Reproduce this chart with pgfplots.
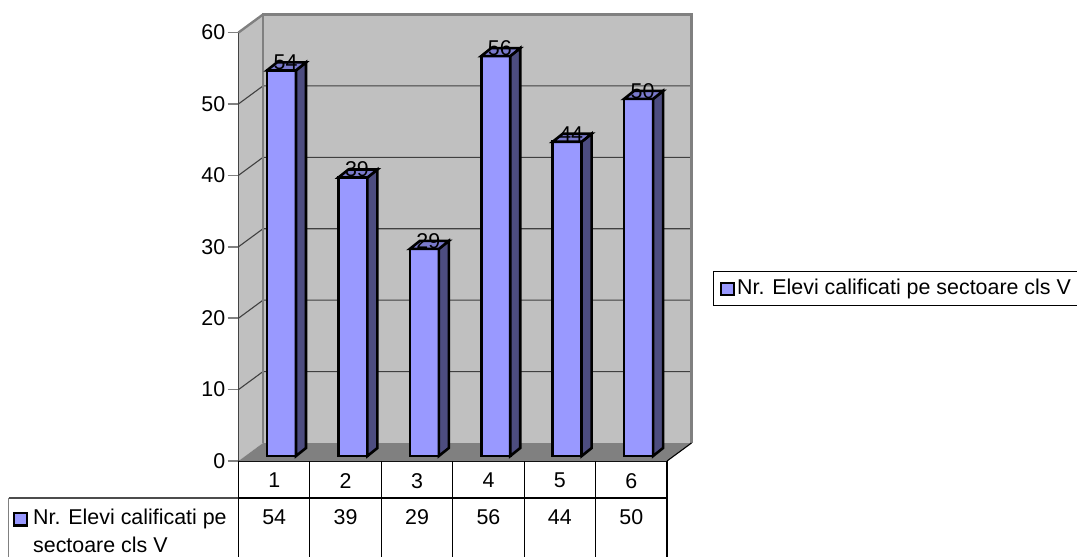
\documentclass[border=0pt]{standalone}
\usepackage{pgfplots}
\pgfplotsset{compat=1.18}
\usepackage{fontspec}
\setmainfont{Liberation Sans}
\definecolor{barfront}{HTML}{9999FF}
\definecolor{barside}{HTML}{4D4D80}
\definecolor{bartop}{HTML}{7A7ACC}
\definecolor{wall}{HTML}{C0C0C0}
\definecolor{floorc}{HTML}{808080}
\newcommand{\chartfont}{\fontsize{21.4}{25}\selectfont}
\pgfplotsset{
  base/.style={
    width=428.5pt, height=428.5pt, scale only axis, clip=false,
    xmin=0.5, xmax=6.5, ymin=0, ymax=60,
  },
  wallline/.style={draw=floorc, line width=2.4pt, forget plot},
  gridl/.style={draw=black!75, line width=1.1pt, forget plot},
  barface/.style={draw=black, line width=2.6pt, line join=miter, forget plot},
}
\begin{document}
\begin{tikzpicture}
\chartfont
\path[use as bounding box] (0pt,0pt) rectangle (1077pt,-557pt);

% walls, floor, gridlines, value axis
\begin{axis}[base,
  at={(238.5pt,-461pt)},
  font=\chartfont,
  /pgf/number format/assume math mode=true,
  axis x line=bottom, axis y line=left,
  axis line style={-, draw=black, line width=1.1pt},
  ytick={0,10,...,60}, xtick={1,2,3,4,5,6},
  xticklabels={1,2,3,4,5,6},
  tick align=outside,
  major tick length=11pt,
  ytick style={draw=floorc, line width=1.6pt},
  xtick style={draw=none},
  yticklabel style={inner sep=1pt, xshift=-1pt},
  xticklabel style={inner sep=0pt, yshift=-1pt},
]
\addplot[fill=wall, draw=none, forget plot] coordinates {(0.843,2.52) (6.843,2.52) (6.843,62.52) (0.843,62.52)} -- cycle;
\addplot[fill=wall, draw=none, forget plot] coordinates {(0.5,0) (0.843,2.52) (0.843,62.52) (0.5,60)} -- cycle;
\addplot[fill=floorc, draw=none, forget plot] coordinates {(0.5,0) (6.5,0) (6.843,2.52) (0.843,2.52)} -- cycle;
\addplot[gridl] coordinates {(0.5,10) (0.843,12.52) (6.843,12.52)};
\addplot[gridl] coordinates {(0.5,20) (0.843,22.52) (6.843,22.52)};
\addplot[gridl] coordinates {(0.5,30) (0.843,32.52) (6.843,32.52)};
\addplot[gridl] coordinates {(0.5,40) (0.843,42.52) (6.843,42.52)};
\addplot[gridl] coordinates {(0.5,50) (0.843,52.52) (6.843,52.52)};
\addplot[wallline] coordinates {(0.843,2.52) (0.843,62.52) (6.843,62.52) (6.843,2.52)};
\addplot[wallline] coordinates {(0.5,60) (0.843,62.52)};
\addplot[draw=black, line width=1.1pt, forget plot] coordinates {(6.5,0) (6.843,2.52)};
% values row of the data table
\addplot[draw=none, forget plot, point meta=explicit symbolic,
  nodes near coords, nodes near coords style={anchor=center, inner sep=0pt, text=black}]
  coordinates {(1,-7.84)[54] (2,-7.84)[39] (3,-7.84)[29] (4,-7.84)[56] (5,-7.84)[44] (6,-7.84)[50]};
\end{axis}

% bars, set slightly into the depth of the floor
\begin{axis}[base,
  at={(245.8pt,-456pt)},
  hide axis,
  font=\chartfont,
  legend style={at={(1.09,0.431)}, anchor=north west, draw=black, line width=1.1pt,
    inner xsep=6.5pt, inner ysep=5.5pt, font=\chartfont,
    legend cell align=left, /tikz/every even column/.style={column sep=2pt}},
]
\addlegendimage{legend image code/.code={
  \draw[fill=barfront, draw=black, line width=2.2pt] (0pt,-6pt) rectangle (13pt,6pt);}}
\addlegendentry{Nr. Elevi calificati pe sectoare cls V}
\addplot[ybar, bar width=29pt, bar shift=0pt, fill=barfront, barface]
  coordinates {(1,54) (2,39) (3,29) (4,56) (5,44) (6,50)};
% side faces
\addplot[fill=barside, barface] coordinates {(1.203,0) (1.343,1.12) (1.343,55.12) (1.203,54)} -- cycle;
\addplot[fill=barside, barface] coordinates {(2.203,0) (2.343,1.12) (2.343,40.12) (2.203,39)} -- cycle;
\addplot[fill=barside, barface] coordinates {(3.203,0) (3.343,1.12) (3.343,30.12) (3.203,29)} -- cycle;
\addplot[fill=barside, barface] coordinates {(4.203,0) (4.343,1.12) (4.343,57.12) (4.203,56)} -- cycle;
\addplot[fill=barside, barface] coordinates {(5.203,0) (5.343,1.12) (5.343,45.12) (5.203,44)} -- cycle;
\addplot[fill=barside, barface] coordinates {(6.203,0) (6.343,1.12) (6.343,51.12) (6.203,50)} -- cycle;
% top faces
\addplot[fill=bartop, barface] coordinates {(0.797,54) (1.203,54) (1.343,55.12) (0.937,55.12)} -- cycle;
\addplot[fill=bartop, barface] coordinates {(1.797,39) (2.203,39) (2.343,40.12) (1.937,40.12)} -- cycle;
\addplot[fill=bartop, barface] coordinates {(2.797,29) (3.203,29) (3.343,30.12) (2.937,30.12)} -- cycle;
\addplot[fill=bartop, barface] coordinates {(3.797,56) (4.203,56) (4.343,57.12) (3.937,57.12)} -- cycle;
\addplot[fill=bartop, barface] coordinates {(4.797,44) (5.203,44) (5.343,45.12) (4.937,45.12)} -- cycle;
\addplot[fill=bartop, barface] coordinates {(5.797,50) (6.203,50) (6.343,51.12) (5.937,51.12)} -- cycle;
% value labels
\addplot[draw=none, forget plot, point meta=explicit symbolic,
  nodes near coords, nodes near coords style={anchor=center, inner sep=0pt, text=black}]
  coordinates {(1.056,55.12)[54] (2.056,40.12)[39] (3.056,30.12)[29] (4.056,57.12)[56] (5.056,45.12)[44] (6.056,51.12)[50]};
\end{axis}

% data table rules and its legend key
\draw[black, line width=1.1pt] (238.5pt,-498pt) -- (667pt,-498pt);
\draw[black!70, line width=1.1pt] (8.5pt,-498pt) -- (238.5pt,-498pt);
\draw[floorc, line width=1.1pt] (8.5pt,-498pt) -- (8.5pt,-557pt);
\foreach \k in {0,...,6}
  \draw[black, line width=1.1pt] ({238.5pt+71.42pt*\k},-461pt) -- ({238.5pt+71.42pt*\k},-557pt);
\draw[fill=barfront, draw=black, line width=2.2pt] (14pt,-513pt) rectangle (27pt,-525.5pt);
\node[anchor=west, inner sep=0pt, font=\chartfont] at (33pt,-519pt) {Nr. Elevi calificati pe};
\node[anchor=west, inner sep=0pt, font=\chartfont] at (33pt,-545pt) {sectoare cls V};
\end{tikzpicture}
\end{document}
